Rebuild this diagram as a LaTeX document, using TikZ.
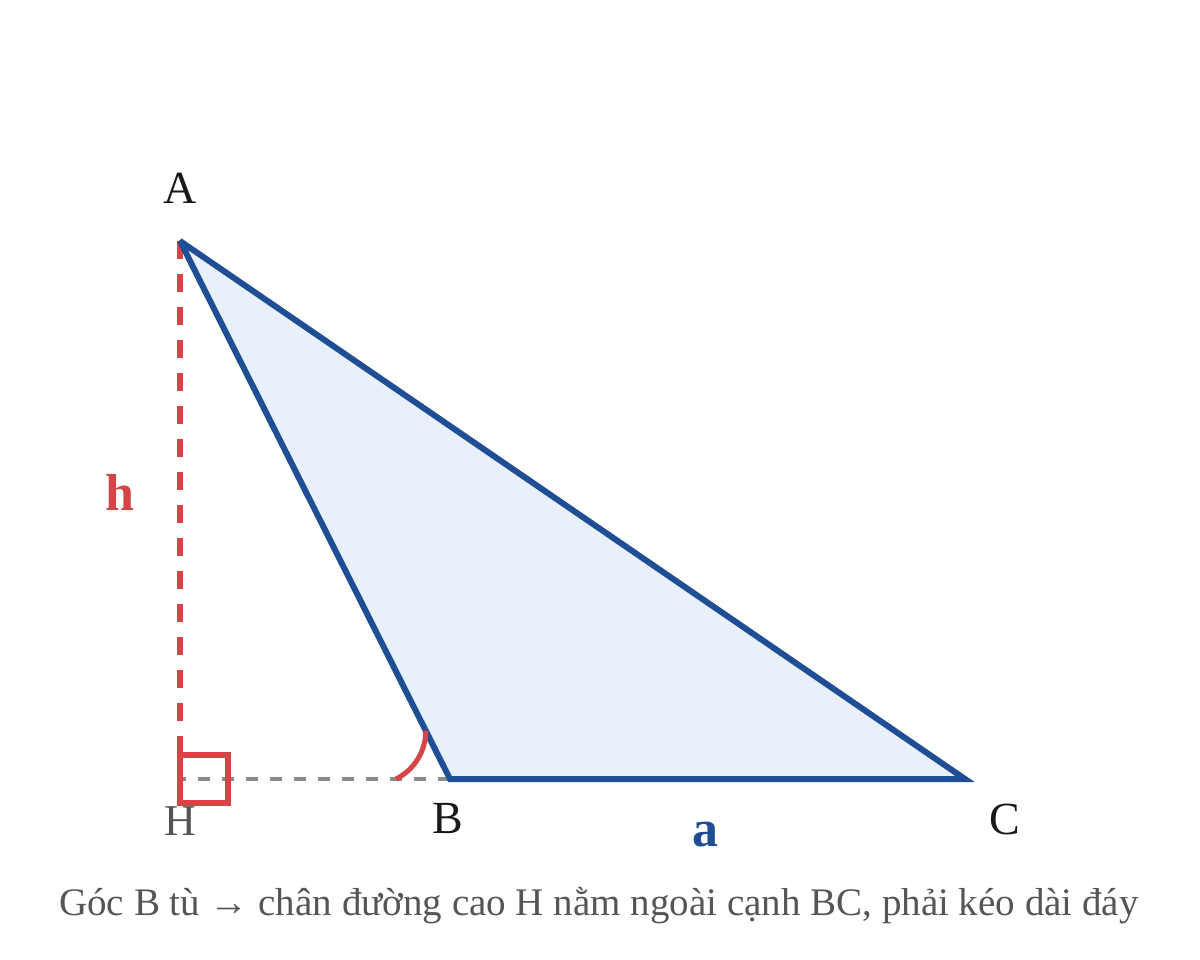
\documentclass[tikz,border=0pt]{standalone}
\usepackage{fontspec}
\setmainfont{Liberation Serif}
\definecolor{triblue}{HTML}{1F4E94}
\definecolor{trifill}{HTML}{E8F0FC}
\definecolor{hred}{HTML}{D64545}
\definecolor{dgray}{HTML}{8A8A8A}
\definecolor{capgray}{HTML}{555555}
\tikzset{
  vlabel/.style={anchor=base, inner sep=0pt, font=\fontsize{46}{50}\selectfont, text=black!90},
  hlabel/.style={anchor=base, inner sep=0pt, font=\fontsize{44}{48}\selectfont, text=capgray},
  boldlabel/.style={anchor=base, inner sep=0pt, font=\fontsize{52}{56}\selectfont\bfseries},
  caption/.style={anchor=base, inner sep=0pt, font=\fontsize{39}{43}\selectfont, text=capgray},
  altitude/.style={draw=hred, line width=6pt, dash pattern=on 18pt off 15pt},
  extension/.style={draw=dgray, line width=4.5pt, dash pattern=on 12pt off 12pt},
  triangle/.style={draw=triblue, fill=trifill, line width=6pt, line join=miter, miter limit=4},
  marker/.style={draw=hred, line width=5.5pt},
}
\begin{document}
\begin{tikzpicture}[x=1pt,y=-1pt]
\useasboundingbox (0,0) rectangle (1200,960);
\coordinate (A) at (180,241);
\coordinate (B) at (450,779);
\coordinate (C) at (965,779);
\coordinate (H) at (180,779);
\coordinate (Htop) at (180,755);
\coordinate (Hsq) at (228,803);
\coordinate (arcS) at (396,779);
% altitude and extension
\draw[altitude] (A) -- (H);
\draw[extension] (B) -- (H);
% right angle marker
\draw[marker] (Htop) rectangle (Hsq);
% triangle
\draw[triangle] (A) -- (B) -- (C) -- cycle;
% angle arc at B
\draw[marker, line width=5pt] (arcS) arc[start angle=63.4, end angle=0, radius=54];
% labels
\node[vlabel] (lA) at (180,204) {A};
\node[hlabel] (lH) at (180,835) {H};
\node[vlabel] (lB) at (448,833) {B};
\node[vlabel] (lC) at (1005,834) {C};
\node[boldlabel, text=hred] (lh) at (120,510) {h};
\node[boldlabel, text=triblue] (la) at (705,846) {a};
\node[caption] (cap) at (599,915) {Góc B tù → chân đường cao H nằm ngoài cạnh BC, phải kéo dài đáy};
\end{tikzpicture}
\end{document}
